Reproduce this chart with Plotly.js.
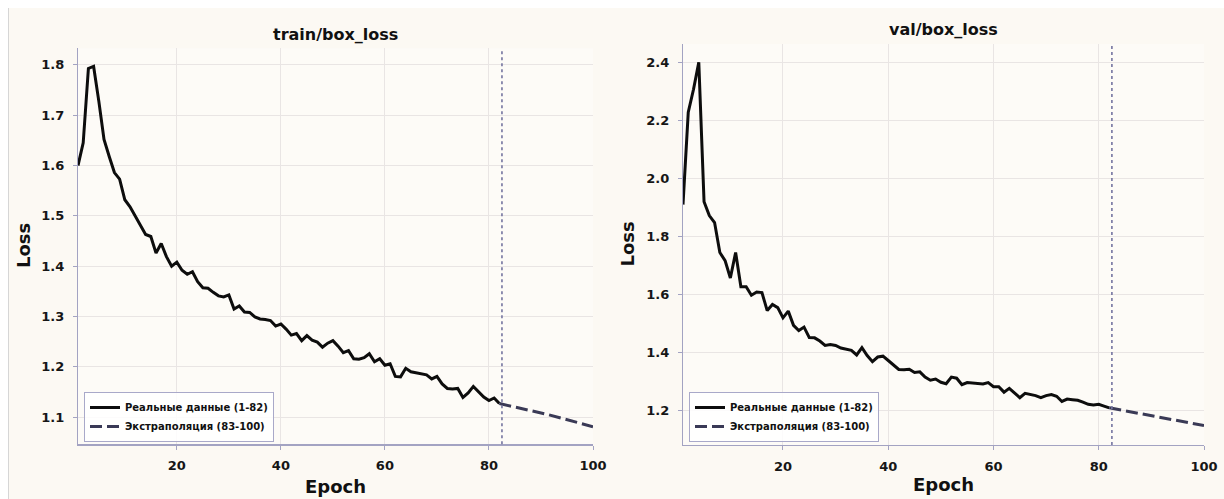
<!DOCTYPE html>
<html>
<head>
<meta charset="utf-8">
<script src="https://cdn.plot.ly/plotly-3.0.1.min.js"></script>
<style>
  html, body { margin: 0; padding: 0; background: #fcf9f3; }
  #chart { width: 1224px; height: 499px; }
</style>
</head>
<body>
<div id="chart"></div>
<script>
// ---- data ----
const epochs = [];
for (let e = 1; e <= 82; e++) epochs.push(e);

const trainBoxLoss = [
  1.600, 1.645, 1.793, 1.797, 1.728, 1.652, 1.618, 1.586, 1.573, 1.532,
  1.518, 1.500, 1.482, 1.463, 1.459, 1.426, 1.445, 1.419, 1.400, 1.408,
  1.392, 1.384, 1.389, 1.369, 1.357, 1.356, 1.348, 1.341, 1.339, 1.343,
  1.315, 1.321, 1.309, 1.308, 1.299, 1.295, 1.294, 1.292, 1.281, 1.285,
  1.275, 1.263, 1.266, 1.252, 1.262, 1.253, 1.249, 1.239, 1.247, 1.252,
  1.241, 1.228, 1.232, 1.216, 1.215, 1.218, 1.226, 1.210, 1.216, 1.203,
  1.206, 1.181, 1.180, 1.197, 1.190, 1.188, 1.185, 1.184, 1.176, 1.181,
  1.166, 1.157, 1.156, 1.157, 1.139, 1.148, 1.161, 1.150, 1.140, 1.133,
  1.138, 1.127
];

const valBoxLoss = [
  1.910, 2.228, 2.307, 2.400, 1.920, 1.872, 1.848, 1.745, 1.717, 1.657,
  1.745, 1.627, 1.627, 1.598, 1.609, 1.607, 1.545, 1.566, 1.555, 1.520,
  1.543, 1.494, 1.476, 1.488, 1.452, 1.451, 1.440, 1.425, 1.428, 1.425,
  1.416, 1.412, 1.408, 1.392, 1.417, 1.390, 1.369, 1.385, 1.388, 1.373,
  1.356, 1.342, 1.341, 1.343, 1.332, 1.334, 1.316, 1.305, 1.309, 1.298,
  1.293, 1.316, 1.312, 1.290, 1.297, 1.295, 1.293, 1.292, 1.297, 1.283,
  1.283, 1.264, 1.277, 1.260, 1.245, 1.260, 1.257, 1.252, 1.245, 1.252,
  1.256, 1.250, 1.232, 1.240, 1.238, 1.236, 1.230, 1.222, 1.220, 1.222,
  1.216, 1.210
];

const extrapEpochs = [82, 91, 100];
const trainExtrap = [1.127, 1.106, 1.081];
const valExtrap = [1.210, 1.180, 1.149];

const cutoffEpoch = 82.5;
const xTicks = [20, 40, 60, 80, 100];
const trainYTicks = [1.1, 1.2, 1.3, 1.4, 1.5, 1.6, 1.7, 1.8];
const valYTicks = [1.2, 1.4, 1.6, 1.8, 2.0, 2.2, 2.4];

const labelReal = "Реальные данные (1-82)";
const labelExtrap = "Экстраполяция (83-100)";

// ---- styling ----
const FONT = "DejaVu Sans, sans-serif";
const axisColor = "#a3a3c2";
const gridColor = "#e9e5e4";
const realColor = "#0d0d0d";
const extrapColor = "#3a3a56";
const cutColor = "#7474a0";
const W = 1224, H = 499;

const traces = [
  { x: epochs, y: trainBoxLoss, xaxis: "x", yaxis: "y", mode: "lines",
    name: labelReal, legend: "legend",
    line: { color: realColor, width: 3 } },
  { x: extrapEpochs, y: trainExtrap, xaxis: "x", yaxis: "y", mode: "lines",
    name: labelExtrap, legend: "legend",
    line: { color: extrapColor, width: 3, dash: "12px,5px" } },
  { x: epochs, y: valBoxLoss, xaxis: "x2", yaxis: "y2", mode: "lines",
    name: labelReal, legend: "legend2",
    line: { color: realColor, width: 3 } },
  { x: extrapEpochs, y: valExtrap, xaxis: "x2", yaxis: "y2", mode: "lines",
    name: labelExtrap, legend: "legend2",
    line: { color: extrapColor, width: 3, dash: "12px,5px" } }
];

function xAxis(domain, anchor) {
  return {
    domain: domain, anchor: anchor, range: [1, 100],
    tickvals: xTicks, ticktext: xTicks.map(String),
    showline: true, linecolor: axisColor, linewidth: 1.2,
    ticks: "outside", ticklen: 4, tickcolor: axisColor, tickwidth: 1,
    showgrid: true, gridcolor: gridColor, gridwidth: 1, zeroline: false,
    tickfont: { family: FONT, size: 13, color: "#161616", weight: "bold" },
    ticklabelstandoff: 5, fixedrange: true
  };
}
function yAxis(domain, anchor, range, ticks) {
  return {
    domain: domain, anchor: anchor, range: range,
    tickvals: ticks, ticktext: ticks.map(v => v.toFixed(1)),
    showline: true, linecolor: axisColor, linewidth: 1.2,
    ticks: "outside", ticklen: 4, tickcolor: axisColor, tickwidth: 1,
    showgrid: true, gridcolor: gridColor, gridwidth: 1, zeroline: false,
    tickfont: { family: FONT, size: 13, color: "#161616", weight: "bold" },
    ticklabelstandoff: 6, fixedrange: true
  };
}

const legendStyle = (x) => ({
  x: x, y: 1 - 442 / H, xanchor: "left", yanchor: "bottom",
  xref: "paper", yref: "paper",
  bgcolor: "rgba(255,255,255,0.85)", bordercolor: "#a9a9c9", borderwidth: 1,
  font: { family: FONT, size: 10, color: "#111", weight: "bold" },
  tracegroupgap: 0, itemwidth: 30
});

const titleFont = { family: FONT, size: 16, color: "#111", weight: "bold" };
const labelFont = { family: FONT, size: 18, color: "#111", weight: "bold" };

const layout = {
  width: W, height: H,
  margin: { l: 0, r: 0, t: 0, b: 0 },
  paper_bgcolor: "#fcf9f3",
  plot_bgcolor: "#fdfbf7",
  showlegend: true,
  xaxis: xAxis([78 / W, 593 / W], "y"),
  yaxis: yAxis([1 - 444.3 / H, 1 - 48.3 / H], "x", [1.046, 1.833], trainYTicks),
  xaxis2: xAxis([683 / W, 1204 / W], "y2"),
  yaxis2: yAxis([1 - 445 / H, 1 - 44 / H], "x2", [1.082, 2.463], valYTicks),
  legend: legendStyle(84 / W),
  legend2: legendStyle(689 / W),
  shapes: [
    { type: "line", xref: "x", yref: "y domain", x0: cutoffEpoch, x1: cutoffEpoch, y0: 0, y1: 1,
      line: { color: cutColor, width: 1.6, dash: "dot" } },
    { type: "line", xref: "x2", yref: "y2 domain", x0: cutoffEpoch, x1: cutoffEpoch, y0: 0, y1: 1,
      line: { color: cutColor, width: 1.6, dash: "dot" } },
    { type: "rect", xref: "paper", yref: "paper", x0: 0, x1: 8 / W, y0: 0, y1: 1,
      fillcolor: "#ffffff", line: { width: 0 }, layer: "below" },
    { type: "rect", xref: "paper", yref: "paper", x0: 0, x1: 1, y0: 1 - 8 / H, y1: 1,
      fillcolor: "#ffffff", line: { width: 0 }, layer: "below" },
    { type: "line", xref: "paper", yref: "paper", x0: 8.5 / W, x1: 8.5 / W, y0: 0, y1: 1 - 8 / H,
      line: { color: "#d6d6d6", width: 1 } }
  ],
  annotations: [
    { text: "train/box_loss", xref: "paper", yref: "paper", x: 335.5 / W, y: 1 - 35 / H,
      xanchor: "center", yanchor: "middle", showarrow: false, font: titleFont },
    { text: "val/box_loss", xref: "paper", yref: "paper", x: 943.5 / W, y: 1 - 30 / H,
      xanchor: "center", yanchor: "middle", showarrow: false, font: titleFont },
    { text: "Loss", xref: "paper", yref: "paper", x: 23 / W, y: 1 - 246 / H,
      xanchor: "center", yanchor: "middle", textangle: -90, showarrow: false, font: labelFont },
    { text: "Loss", xref: "paper", yref: "paper", x: 627 / W, y: 1 - 244.5 / H,
      xanchor: "center", yanchor: "middle", textangle: -90, showarrow: false, font: labelFont },
    { text: "Epoch", xref: "paper", yref: "paper", x: 335.5 / W, y: 1 - 486 / H,
      xanchor: "center", yanchor: "middle", showarrow: false, font: labelFont },
    { text: "Epoch", xref: "paper", yref: "paper", x: 943.5 / W, y: 1 - 484 / H,
      xanchor: "center", yanchor: "middle", showarrow: false, font: labelFont }
  ]
};

Plotly.newPlot("chart", traces, layout, { displayModeBar: false, staticPlot: true });
</script>
</body>
</html>
